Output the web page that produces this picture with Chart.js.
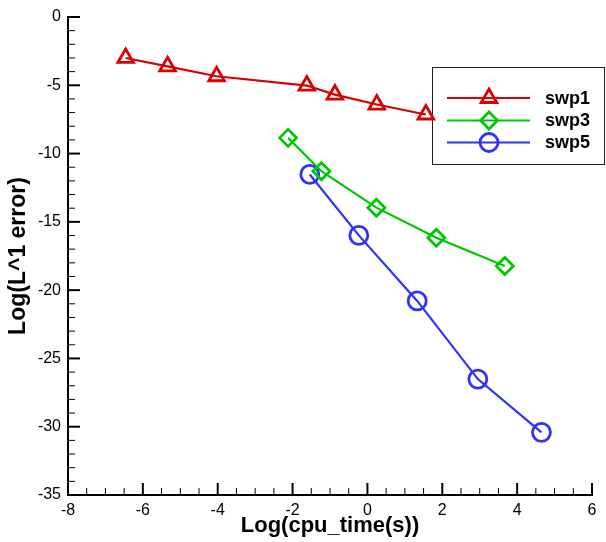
<!DOCTYPE html>
<html>
<head>
<meta charset="utf-8">
<script src="https://cdn.jsdelivr.net/npm/chart.js@4/dist/chart.umd.min.js"></script>
<style>
  body{margin:0;background:#fff;}
  #wrap{width:606px;height:542px;}
</style>
</head>
<body>
<div id="wrap"><canvas id="errChart" width="606" height="542"></canvas></div>
<script>
// values
const swp1X = [-6.46, -5.34, -4.03, -1.62, -0.87, 0.25, 1.56];
const swp1Y = [-3.00, -3.61, -4.34, -5.02, -5.68, -6.41, -7.14];
const swp3X = [-2.12, -1.23, 0.24, 1.84, 3.67];
const swp3Y = [-8.85, -11.29, -13.96, -16.16, -18.23];
const swp5X = [-1.54, -0.23, 1.33, 2.95, 4.65];
const swp5Y = [-11.53, -15.99, -20.79, -26.51, -30.41];
const seriesNames = ["swp1", "swp3", "swp5"];

const RED = "#d80000", GREEN = "#00c800", BLUE = "#3030ff";
const pts = (xs, ys) => xs.map((x, i) => ({x, y: ys[i]}));

Chart.defaults.font.family = "'Liberation Sans', Arial, Helvetica, sans-serif";
Chart.defaults.color = "#000";

function series(label, data, color, style, r){
  return {
    label, data, showLine:true,
    borderColor:color, borderWidth:2.2,
    pointStyle:style, pointRadius:r, pointHoverRadius:r,
    pointBorderColor:color, pointBorderWidth:2.8,
    pointBackgroundColor:"rgba(0,0,0,0)"
  };
}

/* inward major + minor ticks, Tecplot style */
const inwardTicks = {
  id:"inwardTicks",
  afterDraw(chart){
    const {ctx, chartArea:a, scales:{x, y}} = chart;
    ctx.save();
    ctx.strokeStyle = "#000";
    for(let v = -8; v <= 6.001; v += 0.5){
      const major = Math.abs(v % 2) < 1e-6;
      const px = x.getPixelForValue(v);
      ctx.lineWidth = major ? 2 : 1;
      ctx.beginPath();
      ctx.moveTo(px, a.bottom);
      ctx.lineTo(px, a.bottom - (major ? 12 : 7));
      ctx.stroke();
    }
    for(let v = -35; v <= 0; v += 1){
      const major = v % 5 === 0;
      const py = y.getPixelForValue(v);
      ctx.lineWidth = major ? 2 : 1;
      ctx.beginPath();
      ctx.moveTo(a.left, py);
      ctx.lineTo(a.left + (major ? 12 : 7), py);
      ctx.stroke();
    }
    ctx.restore();
  }
};

/* boxed legend with line + marker samples */
const boxLegend = {
  id:"boxLegend",
  beforeDatasetsDraw(chart){
    const ctx = chart.ctx;
    const box = {left:432.5, top:67.5, w:172, h:97};
    const rows = [98, 120.5, 142.5];
    ctx.save();
    ctx.fillStyle = "#fff";
    ctx.fillRect(box.left, box.top, box.w, box.h);
    ctx.strokeStyle = "#222";
    ctx.lineWidth = 1;
    ctx.strokeRect(box.left, box.top, box.w, box.h);
    chart.data.datasets.forEach((ds, i) => {
      const yy = rows[i];
      ctx.strokeStyle = ds.borderColor;
      ctx.lineWidth = 2.2;
      ctx.beginPath();
      ctx.moveTo(447, yy);
      ctx.lineTo(530, yy);
      ctx.stroke();
      ctx.lineWidth = 2.8;
      ctx.fillStyle = "rgba(0,0,0,0)";
      Chart.helpers.drawPoint(ctx, {pointStyle:ds.pointStyle, radius:ds.pointRadius, rotation:0, borderWidth:2.8}, 489, yy);
      ctx.fillStyle = "#000";
      ctx.font = "bold 18px 'Liberation Sans', Arial, sans-serif";
      ctx.textBaseline = "middle";
      ctx.textAlign = "left";
      ctx.fillText(seriesNames[i], 545, yy + 1);
    });
    ctx.restore();
  }
};

new Chart(errChart, {
  type:"scatter",
  data:{
    datasets:[
      series(seriesNames[0], pts(swp1X, swp1Y), RED, "triangle", 9),
      series(seriesNames[1], pts(swp3X, swp3Y), GREEN, "rectRot", 8.5),
      series(seriesNames[2], pts(swp5X, swp5Y), BLUE, "circle", 9)
    ]
  },
  options:{
    responsive:false,
    animation:false,
    layout:{padding:{top:17, right:14, left:0, bottom:0}},
    plugins:{legend:{display:false}, tooltip:{enabled:false}},
    scales:{
      x:{
        type:"linear", min:-8, max:6,
        afterFit(s){ s.height = 47; },
        grid:{drawOnChartArea:false, drawTicks:false},
        border:{display:true, color:"#000", width:2},
        ticks:{stepSize:2, padding:6, font:{size:16}, color:"#000"},
        title:{display:true, text:"Log(cpu_time(s))", font:{size:22, weight:"bold"}, padding:{top:0, bottom:3}, color:"#000"}
      },
      y:{
        type:"linear", min:-35, max:0,
        afterFit(s){ s.width = 68; },
        grid:{drawOnChartArea:false, drawTicks:false},
        border:{display:true, color:"#000", width:2},
        ticks:{stepSize:5, padding:7, font:{size:16}, color:"#000"},
        title:{display:true, text:"Log(L^1 error)", font:{size:23, weight:"bold"}, padding:{top:5, bottom:0}, color:"#000"}
      }
    }
  },
  plugins:[inwardTicks, boxLegend]
});
</script>
</body>
</html>
